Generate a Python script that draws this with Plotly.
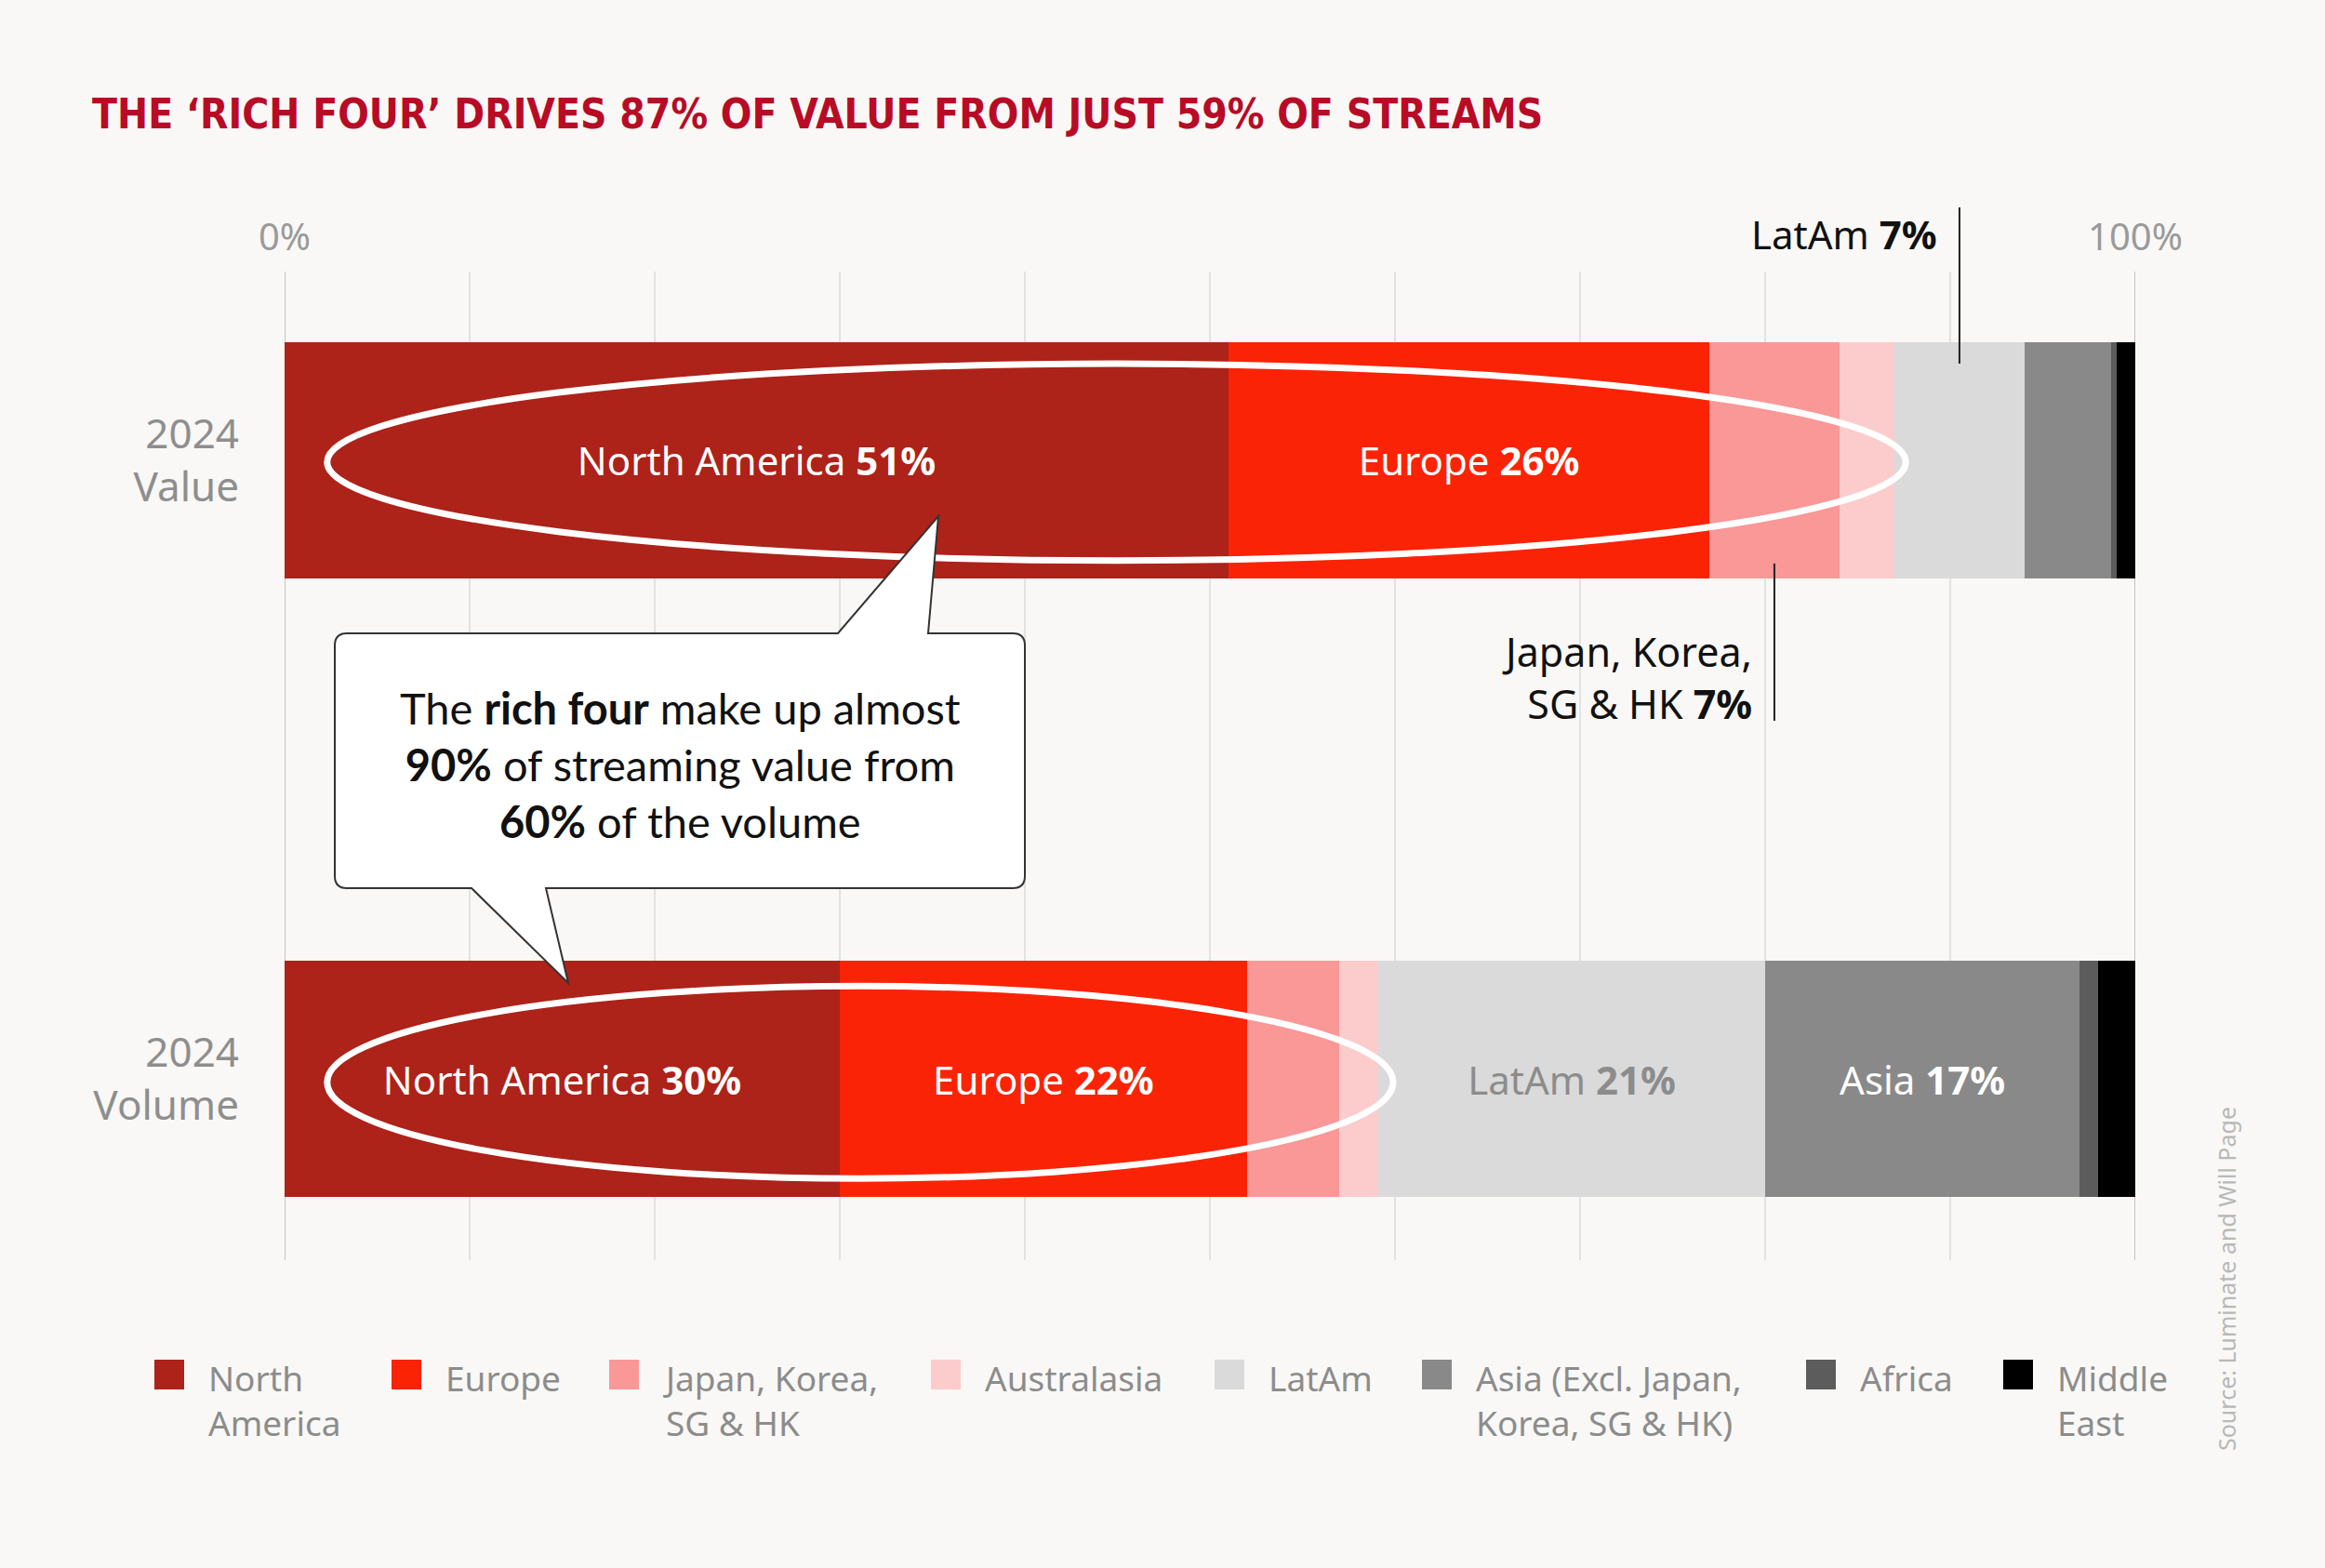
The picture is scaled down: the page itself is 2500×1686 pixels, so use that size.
import plotly.graph_objects as go

# shares of streaming value / volume by region, 2024 (%)
regions = ["North America", "Europe", "Japan, Korea, SG & HK", "Australasia", "LatAm",
           "Asia (Excl. Japan, Korea, SG & HK)", "Africa", "Middle East"]
legend_labels = ["North<br>America", "Europe", "Japan, Korea,<br>SG & HK", "Australasia", "LatAm",
                 "Asia (Excl. Japan,<br>Korea, SG & HK)", "Africa", "Middle<br>East"]
bar_names = ["North America", "Europe", "", "", "LatAm", "Asia", "", ""]
value_share = [51, 26, 7, 3, 7, 4.7, 0.3, 1]
volume_share = [30, 22, 5, 2.1, 20.9, 17, 1, 2]
value_labelled = [True, True, False, False, False, False, False, False]
volume_labelled = [True, True, False, False, True, True, False, False]
rows = ["2024<br>Volume", "2024<br>Value"]
tick_vals = [0, 10, 20, 30, 40, 50, 60, 70, 80, 90, 100]
tick_text = ["0%", "", "", "", "", "", "", "", "", "", "100%"]

colors = ["#AD2219", "#FB2306", "#FA9797", "#FCCCCC", "#DADADA", "#898989", "#5C5C5C", "#000000"]
text_colors = ["white", "white", "white", "white", "#8c8c8c", "white", "white", "white"]
BG = "#F9F8F6"
FONT = "Noto Sans"

W, H = 2500, 1686
L, R, T, B = 306, 2296, 292, 1355   # plot area in px
Y_TOP, Y_BOT = 1.305, -0.293


def xd(px):
    return (px - L) / (R - L) * 100


def yd(py):
    return Y_TOP - (py - T) / (B - T) * (Y_TOP - Y_BOT)


def yp(py):
    return (B - py) / (B - T)


fig = go.Figure()
for i, reg in enumerate(regions):
    vol_txt = f"{bar_names[i]} <b>{round(volume_share[i])}%</b>" if volume_labelled[i] else ""
    val_txt = f"{bar_names[i]} <b>{round(value_share[i])}%</b>" if value_labelled[i] else ""
    fig.add_trace(go.Bar(
        y=rows, x=[volume_share[i], value_share[i]], orientation="h", name=reg,
        marker=dict(color=colors[i], line=dict(width=0)), width=0.382,
        text=[vol_txt, val_txt], textposition="inside", insidetextanchor="middle",
        constraintext="none", textangle=0,
        textfont=dict(family=FONT, size=42, color=[text_colors[i], "white"]),
        showlegend=False, hovertemplate=reg + ": %{x}%<extra></extra>",
    ))

shapes = []
# darker edges at 0% and 100%
for xv in (0, 100):
    shapes.append(dict(type="line", xref="x", yref="paper", x0=xv, x1=xv, y0=0, y1=1,
                       line=dict(color="#c4c4c4", width=2), layer="below"))

# ellipses round the 'rich four'
rich_value = sum(value_share[:4])
rich_volume = sum(volume_share[:4])
shapes.append(dict(type="circle", xref="x", yref="y", x0=2.3, x1=rich_value + 0.6,
                   y0=0.838, y1=1.156, line=dict(color="white", width=7), layer="above"))
shapes.append(dict(type="circle", xref="x", yref="y", x0=2.3, x1=rich_volume + 0.8,
                   y0=-0.161, y1=0.150, line=dict(color="white", width=7), layer="above"))

# leader lines
latam_mid = sum(value_share[:4]) + value_share[4] / 2
japan_mid = sum(value_share[:2]) + value_share[2] / 2
shapes.append(dict(type="line", xref="x", yref="paper", x0=latam_mid, x1=latam_mid,
                   y0=yp(223), y1=yp(391), line=dict(color="#222", width=2)))
shapes.append(dict(type="line", xref="x", yref="paper", x0=japan_mid, x1=japan_mid,
                   y0=yp(606), y1=yp(775), line=dict(color="#222", width=2)))

# speech bubble
r = 13
bl, br, bt, bb = 360, 1102, 681, 955
pts = [("M", bl + r, bt), ("L", 901, bt), ("L", 1009, 555), ("L", 998, bt), ("L", br - r, bt),
       ("Q", br, bt, br, bt + r), ("L", br, bb - r), ("Q", br, bb, br - r, bb),
       ("L", 587, bb), ("L", 611, 1057), ("L", 507, bb), ("L", bl + r, bb),
       ("Q", bl, bb, bl, bb - r), ("L", bl, bt + r), ("Q", bl, bt, bl + r, bt)]
path = ""
for p in pts:
    cmd, coords = p[0], p[1:]
    xy = []
    for k in range(0, len(coords), 2):
        xy.append(f"{xd(coords[k]):.3f},{yd(coords[k + 1]):.4f}")
    path += cmd + " ".join(xy) + " "
path += "Z"
shapes.append(dict(type="path", xref="x", yref="y", path=path, fillcolor="white",
                   line=dict(color="#333", width=2), layer="above"))

annotations = [
    dict(text="The <b>rich four</b> make up almost<br><b>90%</b> of streaming value from<br>"
              "<b>60%</b> of the volume",
         xref="x", yref="y", x=xd(731), y=yd(822), showarrow=False, align="center",
         font=dict(family="Lato", size=47, color="#111")),
    dict(text=f"{regions[4]} <b>{round(value_share[4])}%</b>", xref="x", yref="paper",
         x=latam_mid, xshift=-22, y=yp(252), xanchor="right", yanchor="middle",
         showarrow=False, font=dict(family=FONT, size=42, color="#111")),
    dict(text=f"Japan, Korea,<br>SG & HK <b>{round(value_share[2])}%</b>", xref="x", yref="paper",
         x=japan_mid, xshift=-22, y=yp(728), xanchor="right", yanchor="middle", align="right",
         showarrow=False, font=dict(family=FONT, size=43, color="#111")),
    dict(text="Source: Luminate and Will Page", xref="paper", yref="paper",
         x=(2394 - L) / (R - L), y=yp(1375), xanchor="center", yanchor="middle",
         textangle=-90, showarrow=False,
         font=dict(family=FONT, size=25, color="#b8b8b8")),
]

# legend, drawn by hand so the swatches can be large
legend_x = [166, 421, 655, 1001, 1306, 1529, 1942, 2154]
for i, lab in enumerate(legend_labels):
    x0 = legend_x[i]
    shapes.append(dict(type="rect", xref="paper", yref="paper",
                       x0=(x0 - L) / (R - L), x1=(x0 + 32 - L) / (R - L),
                       y0=yp(1494), y1=yp(1462), fillcolor=colors[i], line=dict(width=0)))
    annotations.append(dict(text=lab, xref="paper", yref="paper", x=(x0 + 56 - L) / (R - L),
                            y=yp(1454), xanchor="left", yanchor="top", align="left",
                            showarrow=False, font=dict(family=FONT, size=37, color="#8c8c8c")))

fig.update_layout(
    width=W, height=H, barmode="stack",
    paper_bgcolor=BG, plot_bgcolor=BG,
    margin=dict(l=L, r=W - R, t=T, b=H - B, pad=0),
    title=dict(text="THE ‘RICH FOUR’ DRIVES 87% OF VALUE FROM JUST 59% OF STREAMS",
               x=99 / W, xanchor="left", y=1 - 123 / H, yanchor="middle",
               font=dict(family="Liberation Sans Narrow, DejaVu Sans Condensed, sans-serif",
                         size=44, color="#B80B26", weight="bold")),
    xaxis=dict(range=[0, 100], side="top", tickvals=tick_vals, ticktext=tick_text,
               showgrid=True, gridcolor="#e2e2e2", gridwidth=2, zeroline=False,
               ticks="", ticklabelstandoff=14, fixedrange=True,
               tickfont=dict(family=FONT, size=40, color="#9a9a9a")),
    yaxis=dict(range=[Y_BOT, Y_TOP], categoryorder="array", categoryarray=rows,
               showgrid=False, zeroline=False, ticks="", ticklabelstandoff=48,
               tickfont=dict(family=FONT, size=44, color="#8e8e8e")),
    shapes=shapes, annotations=annotations, showlegend=False,
)

fig.write_html("out.html", config={"displayModeBar": False},
               post_script="document.body.style.margin='0px';")
